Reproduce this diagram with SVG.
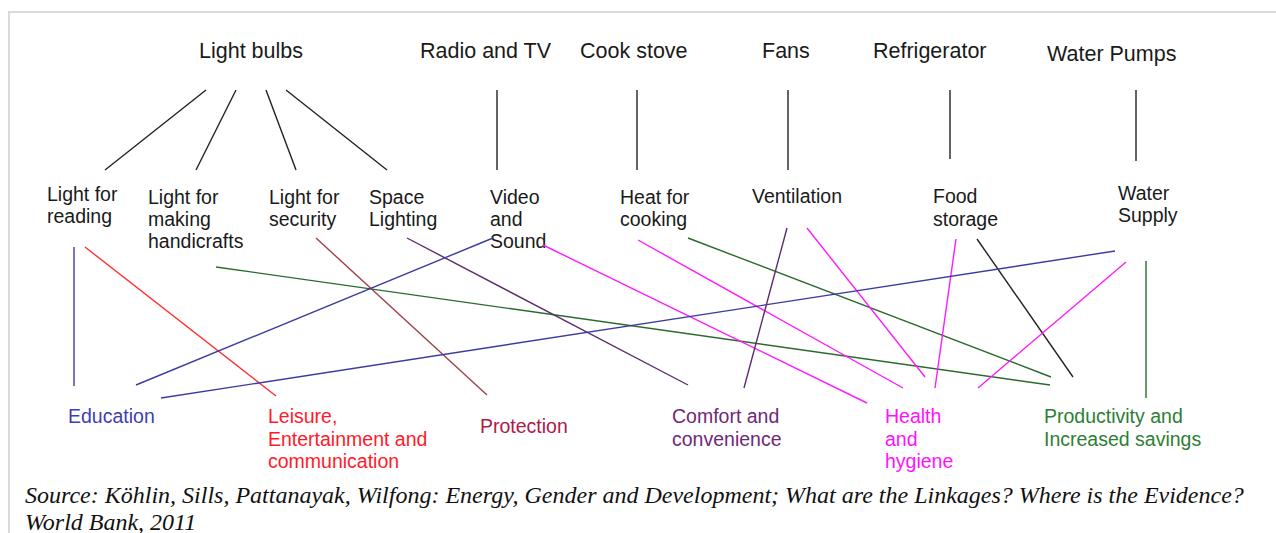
<svg xmlns="http://www.w3.org/2000/svg" width="1276" height="533" viewBox="0 0 1276 533">
  <style>
    text { font-family: "Liberation Sans", Arial, sans-serif; }
    .top { font-size: 21.5px; fill: #1a1a1a; }
    .mid { font-size: 19.5px; fill: #1a1a1a; }
    .out { font-size: 19.5px; }
    .src { font-family: "Liberation Serif", "Times New Roman", serif; font-style: italic; font-size: 24px; fill: #111; }
    line { stroke-width: 1.4; fill: none; }
    .k { stroke: #222; }
    .edu { stroke: #3c3ca0; } .edu-t { fill: #4040b0; }
    .lei { stroke: #ff3030; } .lei-t { fill: #ff1a2a; }
    .pro { stroke: #a0404a; } .pro-t { fill: #b01848; }
    .com { stroke: #5c2d6c; } .com-t { fill: #702878; }
    .hea { stroke: #ff1aff; } .hea-t { fill: #ff10ff; }
    .prd { stroke: #2a6a2e; } .prd-t { fill: #2e7e34; }
  </style>

  <!-- frame (open to the right and bottom) -->
  <path d="M9,533 V12 H1276" fill="none" stroke="#d9d9d9" stroke-width="2"/>

  <!-- technologies -->
  <g id="light-bulbs"><text class="top" x="199" y="58">Light bulbs</text></g>
  <g id="radio-tv"><text class="top" x="420" y="58">Radio and TV</text></g>
  <g id="cook-stove"><text class="top" x="580" y="58">Cook stove</text></g>
  <g id="fans"><text class="top" x="762" y="58">Fans</text></g>
  <g id="refrigerator"><text class="top" x="873" y="58">Refrigerator</text></g>
  <g id="water-pumps"><text class="top" x="1047" y="61">Water Pumps</text></g>

  <!-- services -->
  <g id="light-reading"><text class="mid" x="47" y="201">Light for</text><text class="mid" x="47" y="223">reading</text></g>
  <g id="light-handicrafts"><text class="mid" x="148" y="204">Light for</text><text class="mid" x="148" y="226">making</text><text class="mid" x="148" y="248">handicrafts</text></g>
  <g id="light-security"><text class="mid" x="269" y="204">Light for</text><text class="mid" x="269" y="226">security</text></g>
  <g id="space-lighting"><text class="mid" x="369" y="204">Space</text><text class="mid" x="369" y="226">Lighting</text></g>
  <g id="video-sound"><text class="mid" x="490" y="204">Video</text><text class="mid" x="490" y="226">and</text><text class="mid" x="490" y="248">Sound</text></g>
  <g id="heat-cooking"><text class="mid" x="620" y="204">Heat for</text><text class="mid" x="620" y="226">cooking</text></g>
  <g id="ventilation"><text class="mid" x="752" y="203">Ventilation</text></g>
  <g id="food-storage"><text class="mid" x="933" y="203">Food</text><text class="mid" x="933" y="226">storage</text></g>
  <g id="water-supply"><text class="mid" x="1118" y="200">Water</text><text class="mid" x="1118" y="222">Supply</text></g>

  <!-- outcomes -->
  <g id="education"><text class="out edu-t" x="68" y="423">Education</text></g>
  <g id="leisure"><text class="out lei-t" x="268" y="423">Leisure,</text><text class="out lei-t" x="268" y="446">Entertainment and</text><text class="out lei-t" x="268" y="468">communication</text></g>
  <g id="protection"><text class="out pro-t" x="480" y="433">Protection</text></g>
  <g id="comfort"><text class="out com-t" x="672" y="423">Comfort and</text><text class="out com-t" x="672" y="446">convenience</text></g>
  <g id="health"><text class="out hea-t" x="885" y="423">Health</text><text class="out hea-t" x="885" y="446">and</text><text class="out hea-t" x="885" y="468">hygiene</text></g>
  <g id="productivity"><text class="out prd-t" x="1044" y="423">Productivity and</text><text class="out prd-t" x="1044" y="446">Increased savings</text></g>

  <!-- links -->
  <g id="connectors">
    <!-- technology to service -->
    <line class="k" x1="206" y1="90" x2="105" y2="170"/>
    <line class="k" x1="236" y1="90" x2="196" y2="170"/>
    <line class="k" x1="266" y1="90" x2="296" y2="170"/>
    <line class="k" x1="286" y1="90" x2="387" y2="170"/>
    <line class="k" x1="497" y1="90" x2="497" y2="170"/>
    <line class="k" x1="637" y1="90" x2="637" y2="170"/>
    <line class="k" x1="788" y1="90" x2="788" y2="170"/>
    <line class="k" x1="950" y1="90" x2="950" y2="159"/>
    <line class="k" x1="1136" y1="90" x2="1136" y2="161"/>

    <!-- service to outcome -->
    <line class="edu" x1="74" y1="247" x2="74" y2="386"/>
    <line class="lei" x1="85" y1="247" x2="276" y2="396"/>
    <line class="prd" x1="216" y1="267" x2="1050" y2="385"/>
    <line class="pro" x1="316" y1="238" x2="487" y2="395"/>
    <line class="com" x1="407" y1="238" x2="688" y2="385"/>
    <line class="edu" x1="493" y1="238" x2="136" y2="385"/>
    <line class="hea" x1="543" y1="245" x2="867" y2="403"/>
    <line class="hea" x1="638" y1="240" x2="903" y2="388"/>
    <line class="prd" x1="688" y1="238" x2="1051" y2="377"/>
    <line class="com" x1="787" y1="228" x2="744" y2="388"/>
    <line class="hea" x1="807" y1="228" x2="925" y2="377"/>
    <line class="hea" x1="956" y1="239" x2="935" y2="388"/>
    <line class="k" x1="977" y1="239" x2="1073" y2="377"/>
    <line class="edu" x1="1115" y1="251" x2="161" y2="398"/>
    <line class="hea" x1="1126" y1="262" x2="978" y2="388"/>
    <line class="prd" x1="1146" y1="261" x2="1146" y2="398"/>
  </g>

  <!-- citation -->
  <text class="src" x="25" y="503">Source: Köhlin, Sills, Pattanayak, Wilfong: Energy, Gender and Development; What are the Linkages? Where is the Evidence?</text>
  <text class="src" x="25" y="530">World Bank, 2011</text>
</svg>
